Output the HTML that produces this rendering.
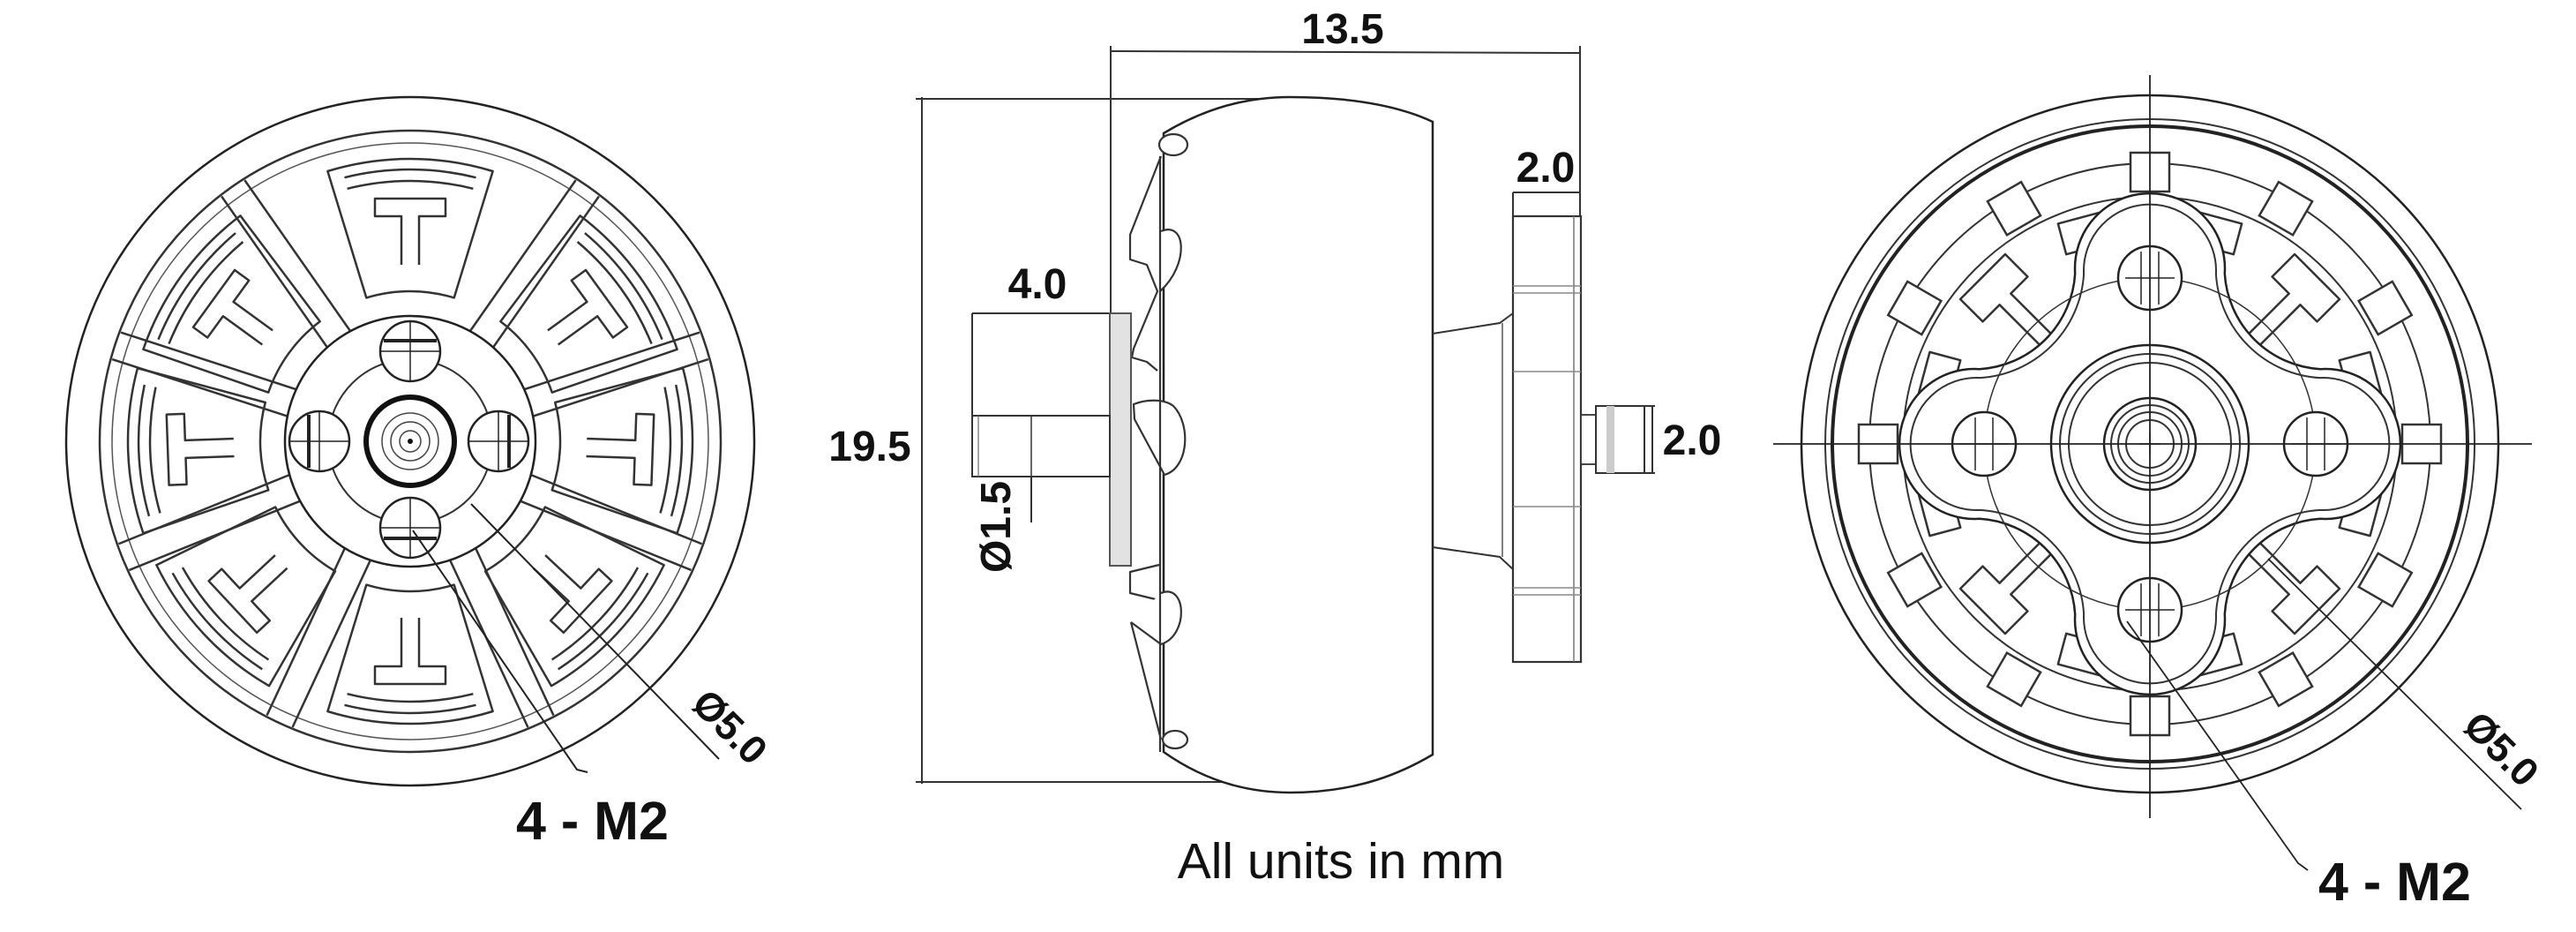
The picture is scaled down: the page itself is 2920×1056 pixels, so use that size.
<!DOCTYPE html>
<html><head><meta charset="utf-8"><style>
html,body{margin:0;padding:0;background:#fff}
svg{display:block}
text{font-family:"Liberation Sans",sans-serif;fill:#111}
.b{font-weight:bold}
</style></head><body>
<svg width="2920" height="1056" viewBox="0 0 2920 1056" xmlns="http://www.w3.org/2000/svg">
<defs>
 <g id="spoke" fill="none" stroke="#333" stroke-width="2.5">
  <line x1="142" y1="-16" x2="350" y2="-16"/><line x1="142" y1="16" x2="350" y2="16"/>
 </g>
 <g id="pocket" fill="none" stroke="#333" stroke-width="2.5" stroke-linejoin="round">
  <path d="M162.6,-49.7 L306,-93.6 A320,320 0 0,1 306,93.6 L162.6,49.7 A170,170 0 0,0 162.6,-49.7 Z"/>
  <path d="M200,-10 L255,-10 L255,-40 L275,-40 L275,40 L255,40 L255,10 L200,10"/>
  <path d="M286.2,-71.4 A295,295 0 0,1 286.2,71.4"/>
  <path d="M298.8,-74.5 A308,308 0 0,1 298.8,74.5"/>
 </g>
 <g id="hole" fill="#fff" stroke="#222" stroke-width="2.5">
  <circle r="34"/><line x1="-34" y1="0" x2="34" y2="0" stroke-width="1.5"/><line x1="0" y1="-34" x2="0" y2="34" stroke-width="1.5"/>
  <line x1="-30" y1="-12" x2="30" y2="-12" stroke-width="4"/>
 </g>
 <g id="tooth" fill="none" stroke="#333" stroke-width="2.5" stroke-linejoin="round">
  <path d="M150,-9 L232,-9 L232,-36 L268,-36 L268,36 L232,36 L232,9 L150,9"/>
 </g>
 <g id="mag" fill="#fff" stroke="#333" stroke-width="2.5">
  <rect x="286" y="-22" width="44" height="44"/>
 </g>
 <g id="rhole" fill="#fff" stroke="#222" stroke-width="2.5">
  <circle r="36"/><line x1="-28" y1="0" x2="28" y2="0" stroke-width="1.5"/><line x1="-10" y1="-30" x2="-10" y2="30" stroke-width="1.5"/><line x1="10" y1="-30" x2="10" y2="30" stroke-width="1.5"/>
 </g>
</defs>

<!-- LEFT MOTOR -->
<g transform="translate(465,500)">
 <circle r="390" fill="none" stroke="#222" stroke-width="2.5"/>
 <circle r="352" fill="none" stroke="#333" stroke-width="2.5"/>
 <circle r="338" fill="none" stroke="#555" stroke-width="1.5"/>
 <use href="#pocket" transform="rotate(-90)"/>
 <use href="#pocket" transform="rotate(-36)"/>
 <use href="#pocket" transform="rotate(2)"/>
 <use href="#pocket" transform="rotate(43)"/>
 <use href="#pocket" transform="rotate(90)"/>
 <use href="#pocket" transform="rotate(137)"/>
 <use href="#pocket" transform="rotate(178)"/>
 <use href="#pocket" transform="rotate(216)"/>
 <use href="#spoke" transform="rotate(-125)"/>
 <use href="#spoke" transform="rotate(-55)"/>
 <use href="#spoke" transform="rotate(-18)"/>
 <use href="#spoke" transform="rotate(22)"/>
 <use href="#spoke" transform="rotate(65)"/>
 <use href="#spoke" transform="rotate(115)"/>
 <use href="#spoke" transform="rotate(158)"/>
 <use href="#spoke" transform="rotate(198)"/>
 <circle r="142" fill="#fff" stroke="#222" stroke-width="2.5"/>
 <circle r="93" fill="none" stroke="#333" stroke-width="2"/>
 <use href="#hole" transform="translate(0,-102)"/>
 <use href="#hole" transform="translate(-103,0) rotate(-90)"/>
 <use href="#hole" transform="translate(100,0) rotate(90)"/>
 <use href="#hole" transform="translate(0,98) rotate(180)"/>
 <circle r="50" fill="#fff" stroke="#111" stroke-width="6"/>
 <circle r="32" fill="none" stroke="#444" stroke-width="1.5"/>
 <circle r="22" fill="none" stroke="#444" stroke-width="1.5"/>
 <circle r="12" fill="none" stroke="#444" stroke-width="1.5"/>
 <circle r="3" fill="#111"/>
</g>
<g fill="none" stroke="#222" stroke-width="2">
 <polyline points="468,601 654,872 666,875"/>
 <line x1="534" y1="571" x2="815" y2="860"/>
</g>
<text class="b" x="585" y="951" font-size="61">4 - M2</text>
<text class="b" font-size="45" transform="translate(782,800) rotate(45)">Ø5.0</text>

<!-- MIDDLE SIDE VIEW -->
<g fill="none" stroke="#333" stroke-width="2">
 <line x1="1045" y1="110" x2="1045" y2="888"/>
 <line x1="1038" y1="112" x2="1470" y2="112"/>
 <line x1="1038" y1="886" x2="1470" y2="886"/>
 <line x1="1259" y1="52" x2="1259" y2="355"/>
 <line x1="1791" y1="52" x2="1791" y2="248"/>
 <line x1="1259" y1="58" x2="1791" y2="60"/>
 <line x1="1102" y1="355" x2="1258" y2="355"/>
 <line x1="1102" y1="355" x2="1102" y2="471"/>
 <line x1="1169" y1="471" x2="1169" y2="592"/>
 <line x1="1715" y1="218" x2="1792" y2="218"/>
 <line x1="1715" y1="218" x2="1715" y2="245"/>
 <line x1="1864" y1="460" x2="1876" y2="460"/>
 <line x1="1864" y1="536" x2="1876" y2="536"/>
 <line x1="1873" y1="460" x2="1873" y2="536"/>
</g>
<path d="M1319,151 C1370,120 1420,110 1462,110 C1540,110 1590,122 1624,138 L1624,855 C1590,875 1540,898 1462,898 C1420,898 1370,888 1319,852 Z" fill="#fff" stroke="#222" stroke-width="2.5"/>
<g fill="#fff" stroke="#333" stroke-width="2.2" stroke-linejoin="round">
 <ellipse cx="1330" cy="164" rx="16" ry="12"/>
 <path d="M1316,177 L1281,266 L1281,294 L1300,300 L1312,330 L1285,395 L1283,405 L1300,410 L1312,420"/>
 <path d="M1316,262 C1345,250 1348,300 1315,330"/>
 <path d="M1285,458 C1300,452 1320,452 1330,460 C1350,480 1348,530 1320,538 L1286,475 Z"/>
 <path d="M1314,640 L1281,648 L1281,672 L1314,680"/>
 <path d="M1316,672 C1345,660 1348,720 1316,730 L1282,705"/>
 <path d="M1282,705 L1316,838"/>
 <ellipse cx="1332" cy="838" rx="14" ry="10"/>
 <line x1="1315" y1="177" x2="1315" y2="852"/>
</g>
<rect x="1258" y="355" width="24" height="286" fill="#e2e2e2" stroke="#555" stroke-width="2"/>
<rect x="1102" y="471" width="156" height="69" fill="#fff" stroke="#333" stroke-width="2"/>
<line x1="1169" y1="471" x2="1169" y2="540" stroke="#333" stroke-width="1.5"/>
<line x1="1109" y1="471" x2="1109" y2="540" stroke="#666" stroke-width="1.2"/>
<path d="M1624,378 L1700,366 L1715,355 M1624,620 L1700,631 L1715,645" fill="none" stroke="#333" stroke-width="2"/>
<line x1="1703" y1="366" x2="1703" y2="631" stroke="#555" stroke-width="1.5"/>
<rect x="1715" y="245" width="77" height="505" fill="#fff" stroke="#333" stroke-width="2.2"/>
<line x1="1784" y1="245" x2="1784" y2="750" stroke="#777" stroke-width="1.5"/>
<g stroke="#888" stroke-width="1.5">
 <line x1="1715" y1="324" x2="1792" y2="324"/><line x1="1715" y1="332" x2="1792" y2="332"/>
 <line x1="1715" y1="421" x2="1792" y2="421"/>
 <line x1="1715" y1="574" x2="1792" y2="574"/>
 <line x1="1715" y1="666" x2="1792" y2="666"/><line x1="1715" y1="674" x2="1792" y2="674"/>
</g>
<rect x="1792" y="470" width="17" height="56" fill="#fff" stroke="#333" stroke-width="1.8"/>
<rect x="1809" y="460" width="55" height="76" fill="#fff" stroke="#333" stroke-width="2"/>
<rect x="1821" y="460" width="9" height="76" fill="#ccc" stroke="none"/>
<text class="b" x="1522" y="49" font-size="48" text-anchor="middle">13.5</text>
<text class="b" x="986" y="522" font-size="48" text-anchor="middle">19.5</text>
<text class="b" x="1176" y="338" font-size="48" text-anchor="middle">4.0</text>
<text class="b" x="1752" y="206" font-size="48" text-anchor="middle">2.0</text>
<text class="b" x="1918" y="515" font-size="48" text-anchor="middle">2.0</text>
<text class="b" font-size="48" text-anchor="middle" transform="translate(1145,597) rotate(-90)">Ø1.5</text>
<text x="1520" y="995" font-size="57" text-anchor="middle">All units in mm</text>

<!-- RIGHT MOTOR -->
<g transform="translate(2437,503)">
 <circle r="395" fill="none" stroke="#222" stroke-width="2.5"/>
 <circle r="368" fill="none" stroke="#333" stroke-width="2"/>
 <circle r="360" fill="none" stroke="#222" stroke-width="4"/>
 <circle r="318" fill="none" stroke="#333" stroke-width="2"/>
 <circle r="280" fill="none" stroke="#333" stroke-width="2"/>
 <use href="#mag" transform="rotate(0)"/><use href="#mag" transform="rotate(30)"/><use href="#mag" transform="rotate(60)"/>
 <use href="#mag" transform="rotate(90)"/><use href="#mag" transform="rotate(120)"/><use href="#mag" transform="rotate(150)"/>
 <use href="#mag" transform="rotate(180)"/><use href="#mag" transform="rotate(210)"/><use href="#mag" transform="rotate(240)"/>
 <use href="#mag" transform="rotate(270)"/><use href="#mag" transform="rotate(300)"/><use href="#mag" transform="rotate(330)"/>
 <use href="#tooth" transform="rotate(15)"/><use href="#tooth" transform="rotate(45)"/><use href="#tooth" transform="rotate(75)"/>
 <use href="#tooth" transform="rotate(105)"/><use href="#tooth" transform="rotate(135)"/><use href="#tooth" transform="rotate(165)"/>
 <use href="#tooth" transform="rotate(195)"/><use href="#tooth" transform="rotate(225)"/><use href="#tooth" transform="rotate(255)"/>
 <use href="#tooth" transform="rotate(285)"/><use href="#tooth" transform="rotate(315)"/><use href="#tooth" transform="rotate(345)"/>
 <path d="M-84.8,-193.1 A85,85 0 1,1 84.8,-193.1 A115.4,115.4 0 0,0 193.1,-84.8 A85,85 0 1,1 193.1,84.8 A115.4,115.4 0 0,0 84.8,193.1 A85,85 0 1,1 -84.8,193.1 A115.4,115.4 0 0,0 -193.1,84.8 A85,85 0 1,1 -193.1,-84.8 A115.4,115.4 0 0,0 -84.8,-193.1 Z" fill="#fff" stroke="#222" stroke-width="2.5"/>
 <path d="M-74.9,-192.5 A75,75 0 1,1 74.9,-192.5 A125.4,125.4 0 0,0 192.5,-74.9 A75,75 0 1,1 192.5,74.9 A125.4,125.4 0 0,0 74.9,192.5 A75,75 0 1,1 -74.9,192.5 A125.4,125.4 0 0,0 -192.5,74.9 A75,75 0 1,1 -192.5,-74.9 A125.4,125.4 0 0,0 -74.9,-192.5 Z" fill="none" stroke="#333" stroke-width="2"/>
 <circle r="188" fill="none" stroke="#333" stroke-width="1.5"/>
 <use href="#rhole" transform="translate(0,-188)"/>
 <use href="#rhole" transform="translate(188,0)"/>
 <use href="#rhole" transform="translate(0,188)"/>
 <use href="#rhole" transform="translate(-188,0)"/>
 <circle r="112" fill="none" stroke="#222" stroke-width="2.5"/>
 <circle r="102" fill="none" stroke="#333" stroke-width="2"/>
 <circle r="92" fill="none" stroke="#333" stroke-width="2"/>
 <circle r="52" fill="none" stroke="#222" stroke-width="2.5"/>
 <circle r="44" fill="none" stroke="#333" stroke-width="2"/>
 <circle r="36" fill="none" stroke="#333" stroke-width="2"/>
 <circle r="27" fill="none" stroke="#333" stroke-width="2"/>
 <line x1="-12" y1="0" x2="12" y2="0" stroke="#222" stroke-width="1.5"/>
 <line x1="0" y1="-12" x2="0" y2="12" stroke="#222" stroke-width="1.5"/>
</g>
<g stroke="#222" stroke-width="1.8" fill="none">
 <line x1="2010" y1="503" x2="2870" y2="503"/>
 <line x1="2437" y1="85" x2="2437" y2="927"/>
 <polyline points="2411,704 2605,978 2616,986"/>
 <line x1="2571" y1="633" x2="2858" y2="917"/>
</g>
<text class="b" x="2628" y="1020" font-size="61">4 - M2</text>
<text class="b" font-size="45" transform="translate(2790,825) rotate(45)">Ø5.0</text>
</svg>
</body></html>
